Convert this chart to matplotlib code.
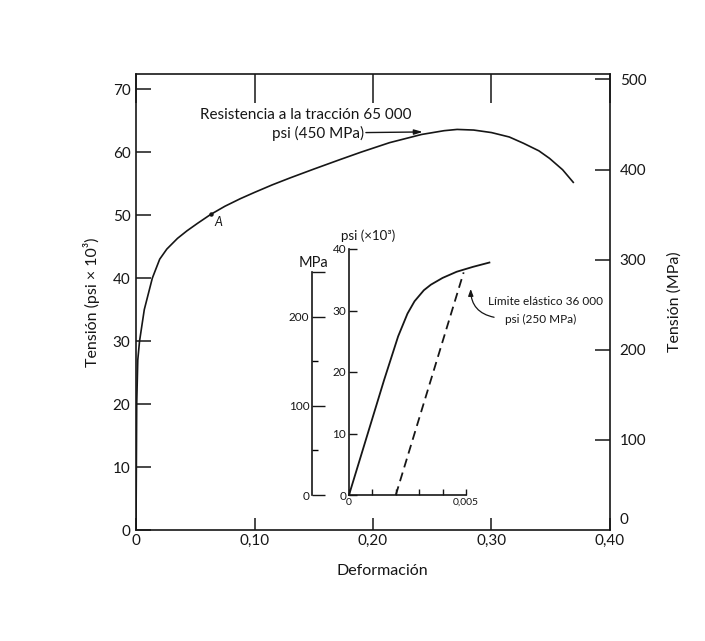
import matplotlib
matplotlib.use("Agg")
from matplotlib import pyplot as plt
from matplotlib.ticker import FixedLocator

plt.rcParams['font.family'] = ['Lato', 'DejaVu Sans']

# curva principal (deformacion, tension en ksi)
strain = [0, 0.0006, 0.0015, 0.003, 0.007, 0.0138, 0.02, 0.026, 0.035, 0.043,
          0.052, 0.063, 0.075, 0.088, 0.10, 0.115, 0.13, 0.15, 0.172, 0.19,
          0.214, 0.241, 0.26, 0.271, 0.285, 0.30, 0.315, 0.327, 0.34, 0.349,
          0.36, 0.369]
stress = [0, 20, 27, 30, 35, 40, 43.0, 44.6, 46.3, 47.5,
          48.7, 50.1, 51.4, 52.6, 53.6, 54.8, 55.9, 57.3, 58.8, 60.0,
          61.5, 62.8, 63.4, 63.6, 63.5, 63.1, 62.4, 61.4, 60.2, 59.0,
          57.2, 55.2]
point_a = (0.063, 50.1)

# detalle (zona elastica)
strain_in = [0, 0.0015, 0.0021, 0.0025, 0.0028, 0.0032, 0.0035, 0.004,
             0.0046, 0.0053, 0.006]
stress_in = [0, 18.7, 25.8, 29.5, 31.5, 33.3, 34.2, 35.3, 36.3, 37.1, 37.8]
offset_x = [0.002, 0.0049]
offset_y = [0, 36.2]

x_ticks = [0, 0.1, 0.2, 0.3, 0.4]
x_labels = ['0', '0,10', '0,20', '0,30', '0,40']
psi_ticks = [0, 10, 20, 30, 40, 50, 60, 70]
mpa_ticks = [100, 200, 300, 400, 500]
KSI_TO_MPA = 6.895

ink = '#161616'
fig = plt.figure(figsize=(7.05, 6.41), dpi=100)
W, H = 705, 641

def box(x0, y0, x1, y1):
    return [x0 / W, 1 - y1 / H, (x1 - x0) / W, (y1 - y0) / H]

ax = fig.add_axes(box(136, 74, 610, 530))
ax.plot(strain, stress, color=ink, lw=1.2)
ax.plot(*point_a, 'o', color=ink, ms=2.2)
ax.text(point_a[0] + 0.003, point_a[1] - 1.8, 'A', fontsize=9, style='italic', color=ink)
ax.set_xlim(0, 0.4)
ax.set_ylim(0, 72.4)
ax.set_xticks(x_ticks)
ax.set_xticklabels(x_labels)
ax.set_yticks(psi_ticks)
ax.tick_params(axis='x', direction='in', length=9, width=1.1, labelsize=11, pad=3,
               top=True, colors=ink)
ax.tick_params(axis='y', direction='in', length=11, width=1.1, labelsize=11, pad=4,
               colors=ink)
for t in ax.xaxis.get_major_ticks():
    t.tick2line.set_markersize(21)
for s in ax.spines.values():
    s.set_linewidth(1.2)
    s.set_color(ink)
ax.set_xlabel('Deformación', fontsize=11.5, color=ink)
ax.xaxis.set_label_coords(0.52, -0.075)
ax.set_ylabel('Tensión (psi × 10³)', fontsize=11.5, color=ink)
ax.yaxis.set_label_coords(-0.075, 0.5)

ax2 = ax.twinx()
ax2.set_ylim(0, 506)
ax2.set_yticks(mpa_ticks)
ax2.tick_params(axis='y', direction='in', length=11, width=1.1, labelsize=11, pad=7,
                colors=ink)
ax2.set_ylabel('Tensión (MPa)', fontsize=11.5, color=ink)
ax2.yaxis.set_label_coords(1.12, 0.5)
for s in ax2.spines.values():
    s.set_visible(False)
ax2.annotate('0', xy=(1, 0), xycoords='axes fraction', xytext=(7, 2),
             textcoords='offset points', fontsize=11, color=ink, va='bottom')

ax.text(0.054, 65.9, 'Resistencia a la tracción 65 000', fontsize=11, color=ink,
        va='center')
ax.text(0.115, 63.0, 'psi (450 MPa)', fontsize=11, color=ink, va='center')
ax.annotate('', xy=(0.242, 63.2), xytext=(0.194, 63.1),
            arrowprops=dict(arrowstyle='-|>,head_length=0.5,head_width=0.15',
                            color=ink, lw=1.0, shrinkA=0, shrinkB=0))

# detalle psi
ai = fig.add_axes(box(349, 249, 489.4, 495))
ai.patch.set_alpha(0)
ai.plot(strain_in, stress_in, color=ink, lw=1.3, clip_on=False)
ai.plot(offset_x, offset_y, color=ink, lw=1.3, linestyle=(0, (5, 3)))
ai.set_xlim(0, 0.006)
ai.set_ylim(0, 40)
ai.spines['top'].set_visible(False)
ai.spines['right'].set_visible(False)
ai.spines['left'].set_bounds(0, 40)
ai.spines['bottom'].set_bounds(0, 0.005)
for s in ('left', 'bottom'):
    ai.spines[s].set_linewidth(1.2)
    ai.spines[s].set_color(ink)
ai.set_yticks([0, 10, 20, 30, 40])
ai.set_xticks([0, 0.001, 0.002, 0.003, 0.004, 0.005])
ai.set_xticklabels(['0', '', '', '', '', '0,005'])
ai.tick_params(axis='y', direction='in', length=6, width=1.0, labelsize=8.5, pad=2,
               colors=ink)
ai.tick_params(axis='x', direction='in', length=4, width=1.0, labelsize=7.5, pad=2,
               colors=ink)
ai.text(0.0008, 41.2, 'psi (×10³)', fontsize=9.5, color=ink, ha='center', va='bottom')

ai.text(0.0084, 31.5, 'Límite elástico 36 000', fontsize=8.5, color=ink,
        ha='center', va='center', clip_on=False)
ai.text(0.0082, 28.6, 'psi (250 MPa)', fontsize=8.5, color=ink,
        ha='center', va='center', clip_on=False)
ai.annotate('', xy=(0.0052, 33.5), xytext=(0.0062, 28.9), annotation_clip=False,
            arrowprops=dict(arrowstyle='-|>,head_length=0.4,head_width=0.15',
                            connectionstyle='arc3,rad=-0.4', color=ink, lw=0.9,
                            shrinkA=0, shrinkB=0))

# detalle MPa
am = fig.add_axes(box(312, 249, 330, 495))
am.patch.set_alpha(0)
am.set_ylim(0, 40 * KSI_TO_MPA)
am.set_xticks([])
for s in ('top', 'right', 'bottom'):
    am.spines[s].set_visible(False)
am.spines['left'].set_bounds(0, 250)
am.spines['left'].set_linewidth(1.2)
am.spines['left'].set_color(ink)
am.yaxis.set_major_locator(FixedLocator([0, 100, 200, 250]))
am.set_yticklabels(['0', '100', '200', ''])
am.yaxis.set_minor_locator(FixedLocator([50, 150]))
am.tick_params(axis='y', which='major', direction='in', length=9, width=1.0,
               labelsize=8.5, pad=2, colors=ink)
am.tick_params(axis='y', which='minor', direction='in', length=4, width=1.0)
fig.text(313 / W, 1 - 263 / H, 'MPa', fontsize=10.5, color=ink, ha='center', va='center')

fig.savefig('out.png', dpi=100)
